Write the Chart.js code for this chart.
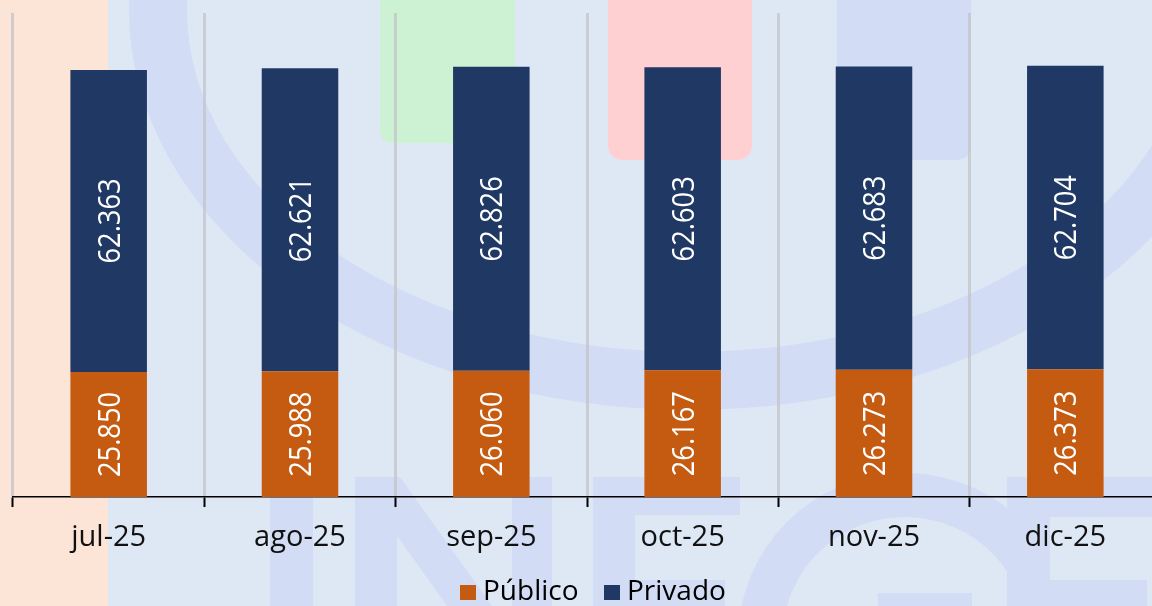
<!DOCTYPE html>
<html>
<head>
<meta charset="utf-8">
<script src="https://cdn.jsdelivr.net/npm/chart.js@4.4.1/dist/chart.umd.min.js"></script>
<style>
    html, body { margin: 0; padding: 0; overflow: hidden; background: #DEE8F5; }
    #wrap { position: relative; width: 1152px; height: 606px; overflow: hidden; }
    #chart { position: absolute; left: 0; top: 0; }
    .key { position: absolute; width: 16px; height: 15px; top: 585px; }
    .txt { position: absolute; top: 570px; font: 28px 'Open Sans', sans-serif; color: #000; line-height: 38px; white-space: nowrap; }
</style>
</head>
<body>
<div id="wrap">
    <canvas id="chart" width="1170" height="606"></canvas>
    <div class="key" style="left:460px;background:#C55A11"></div>
    <div class="txt" style="left:483px">Público</div>
    <div class="key" style="left:604px;background:#1F3864"></div>
    <div class="txt" style="left:627px">Privado</div>
</div>
<script>
const months = ['jul-25', 'ago-25', 'sep-25', 'oct-25', 'nov-25', 'dic-25'];
const publico = [25850, 25988, 26060, 26167, 26273, 26373];
const privado = [62363, 62621, 62826, 62603, 62683, 62704];

const LAVENDER = '#D3DCF5';

// "25850" -> "25.850"
function fmt(n) {
    return String(n).replace(/\B(?=(\d{3})+(?!\d))/g, '.');
}

function roundBottom(ctx, x, y, w, h, r) {
    ctx.beginPath();
    ctx.moveTo(x, y);
    ctx.lineTo(x + w, y);
    ctx.lineTo(x + w, y + h - r);
    ctx.quadraticCurveTo(x + w, y + h, x + w - r, y + h);
    ctx.lineTo(x + r, y + h);
    ctx.quadraticCurveTo(x, y + h, x, y + h - r);
    ctx.closePath();
    ctx.fill();
}

// watermark behind the chart
const backdrop = {
    id: 'backdrop',
    beforeDraw(chart) {
        const ctx = chart.ctx;
        ctx.save();
        ctx.fillStyle = '#DEE8F5';
        ctx.fillRect(0, 0, chart.width, chart.height);

        ctx.fillStyle = '#FCE4D6';
        ctx.fillRect(0, 0, 108, chart.height);

        ctx.fillStyle = '#CDF2D3';
        roundBottom(ctx, 380, -10, 135, 153, 14);
        ctx.fillStyle = '#FFD0D1';
        roundBottom(ctx, 608, -10, 144, 170, 16);
        ctx.fillStyle = LAVENDER;
        roundBottom(ctx, 837, -10, 134, 170, 16);

        // ring
        ctx.beginPath();
        ctx.ellipse(690, 10, 561, 400, 0, 0, Math.PI * 2);
        ctx.ellipse(690, 10, 503, 342, 0, 0, Math.PI * 2, true);
        ctx.fill('evenodd');

        // letters
        ctx.fillRect(270, 477, 43, 140);
        ctx.fillRect(355, 477, 42, 140);
        ctx.fillRect(512, 477, 40, 140);
        ctx.beginPath();
        ctx.moveTo(355, 477);
        ctx.lineTo(400, 477);
        ctx.lineTo(552, 690);
        ctx.lineTo(507, 690);
        ctx.closePath();
        ctx.fill();

        ctx.fillRect(593, 477, 42, 140);
        ctx.fillRect(593, 477, 147, 38);
        ctx.fillRect(593, 580, 132, 40);

        ctx.beginPath();
        ctx.arc(905, 640, 167, Math.PI, Math.PI * 1.82);
        ctx.arc(905, 640, 123, Math.PI * 1.82, Math.PI, true);
        ctx.closePath();
        ctx.fill();
        ctx.fillRect(878, 593, 94, 30);

        ctx.fillRect(1007, 477, 43, 140);
        ctx.fillRect(1007, 477, 160, 40);
        ctx.fillRect(1007, 580, 140, 40);
        ctx.restore();
    }
};

// vertical value labels centred in each segment
const valueLabels = {
    id: 'valueLabels',
    afterDatasetsDraw(chart) {
        const ctx = chart.ctx;
        const size = 31;
        ctx.save();
        ctx.fillStyle = '#FFFFFF';
        ctx.font = size + 'px "Open Sans"';
        ctx.textAlign = 'center';
        ctx.textBaseline = 'alphabetic';
        chart.data.datasets.forEach((ds, i) => {
            chart.getDatasetMeta(i).data.forEach((bar, j) => {
                const mid = (bar.y + bar.base) / 2;
                ctx.save();
                ctx.translate(bar.x, mid);
                ctx.rotate(-Math.PI / 2);
                ctx.scale(0.88, 1);
                ctx.fillText(fmt(ds.data[j]), 0, size * 0.357);
                ctx.restore();
            });
        });
        ctx.restore();
    }
};

new Chart(document.getElementById('chart'), {
    type: 'bar',
    data: {
        labels: months,
        datasets: [
            { label: 'Público', data: publico, backgroundColor: '#C55A11' },
            { label: 'Privado', data: privado, backgroundColor: '#1F3864' }
        ]
    },
    options: {
        responsive: false,
        animation: false,
        devicePixelRatio: 1,
        layout: { padding: { left: 13, right: 9, top: 13, bottom: 0 } },
        datasets: {
            bar: { categoryPercentage: 1, barPercentage: 0.4 }
        },
        plugins: {
            legend: { display: false },
            tooltip: { enabled: false }
        },
        scales: {
            x: {
                stacked: true,
                afterFit: s => { s.height = 109; },
                grid: {
                    color: 'rgba(196,198,202,0.8)',
                    lineWidth: 3,
                    tickColor: '#000',
                    tickWidth: 2,
                    tickLength: 10
                },
                border: { color: '#000', width: 1.5 },
                ticks: {
                    color: '#111',
                    padding: 13,
                    font: { family: 'Open Sans', size: 29 }
                }
            },
            y: {
                stacked: true,
                display: false,
                min: 0,
                max: 100000
            }
        }
    },
    plugins: [backdrop, valueLabels]
});
</script>
</body>
</html>
